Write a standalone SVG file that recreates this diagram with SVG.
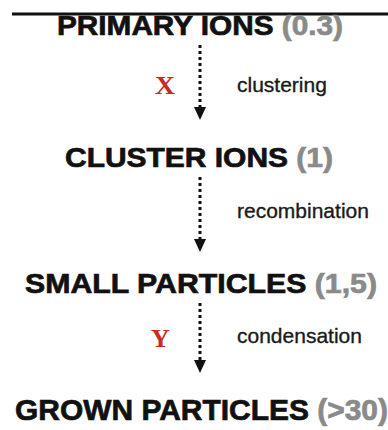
<svg xmlns="http://www.w3.org/2000/svg" width="388" height="430" viewBox="0 0 388 430">
  <style>
    .node { font-family: "Liberation Sans", Arial, sans-serif; font-weight: bold; font-size: 28px; fill: #111; stroke: #111; stroke-width: 0.7px; }
    .val { fill: #8a8a8a; stroke: #8a8a8a; }
    .lbl { font-family: "Liberation Sans", Arial, sans-serif; font-size: 21px; fill: #1a1a1a; stroke: #1a1a1a; stroke-width: 0.35px; }
    .mark { font-family: "Liberation Serif", "Times New Roman", serif; font-weight: bold; font-size: 26px; fill: #cc2a1e; }
    .conn { stroke: #111; stroke-width: 3; stroke-dasharray: 3 3; fill: none; }
  </style>
  <defs>
    <marker id="head" markerUnits="userSpaceOnUse" viewBox="0 -7 14 14" refX="0" refY="0" markerWidth="14" markerHeight="14" orient="auto">
      <path d="M0,-6 L13,0 L0,6 Z" fill="#111"/>
    </marker>
  </defs>
  <rect width="388" height="430" fill="#fff"/>
  <line x1="12" y1="14" x2="388" y2="14" stroke="#111" stroke-width="3"/>

  <g id="primary-ions">
    <text class="node" x="57" y="35" textLength="286" lengthAdjust="spacingAndGlyphs">PRIMARY IONS <tspan class="val">(0.3)</tspan></text>
  </g>
  <g id="cluster-ions">
    <text class="node" x="65" y="167" textLength="268" lengthAdjust="spacingAndGlyphs">CLUSTER IONS <tspan class="val">(1)</tspan></text>
  </g>
  <g id="small-particles">
    <text class="node" x="25" y="293" textLength="352" lengthAdjust="spacingAndGlyphs">SMALL PARTICLES <tspan class="val">(1,5)</tspan></text>
  </g>
  <g id="grown-particles">
    <text class="node" x="15" y="420" textLength="373" lengthAdjust="spacingAndGlyphs" style="font-size:30px">GROWN PARTICLES <tspan class="val">(&gt;30)</tspan></text>
  </g>

  <g id="connectors">
    <path class="conn" d="M200,45 L200,107" marker-end="url(#head)"/>
    <path class="conn" d="M200,177 L200,239" marker-end="url(#head)"/>
    <path class="conn" d="M200,303 L200,360" marker-end="url(#head)"/>
    <text class="mark" x="155" y="94" textLength="20" lengthAdjust="spacingAndGlyphs">X</text>
    <text class="lbl" x="237" y="92">clustering</text>
    <text class="lbl" x="237" y="218">recombination</text>
    <text class="mark" x="151" y="347">Y</text>
    <text class="lbl" x="237" y="343">condensation</text>
  </g>
</svg>
